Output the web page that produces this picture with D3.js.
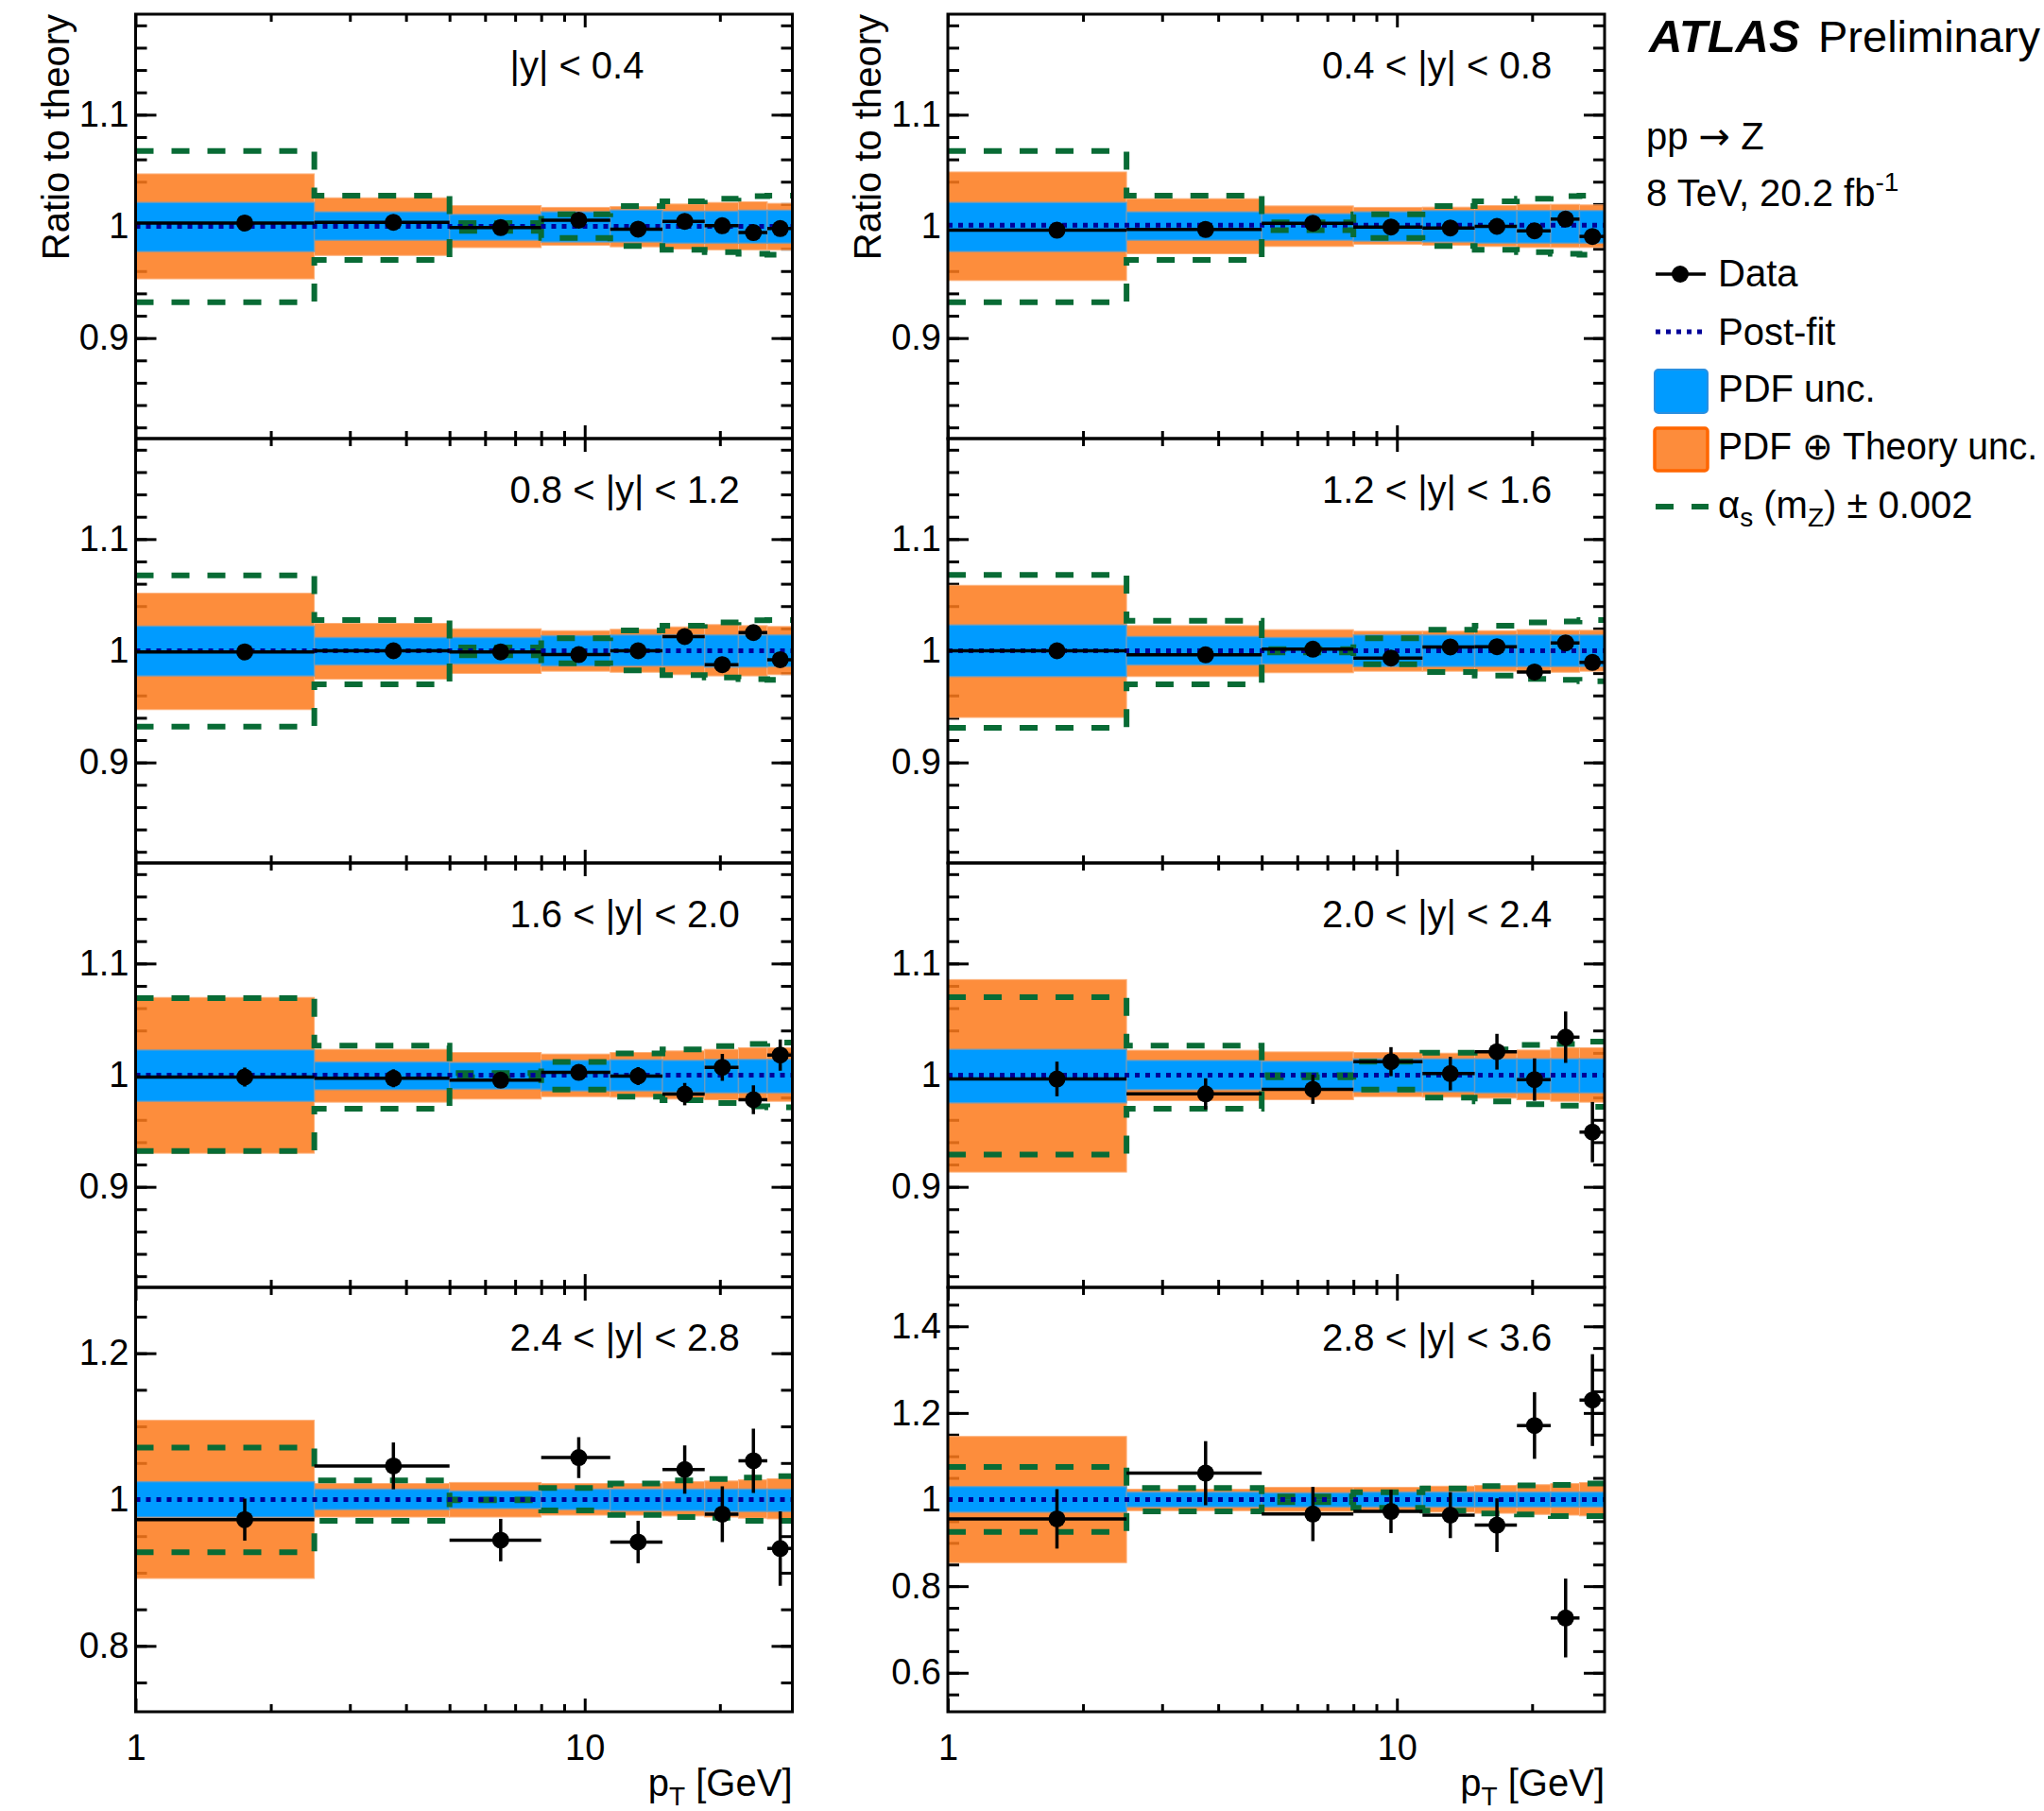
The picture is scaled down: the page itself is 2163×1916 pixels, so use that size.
<!DOCTYPE html>
<html>
<head>
<meta charset="utf-8">
<script src="https://cdn.jsdelivr.net/npm/d3@7"></script>
<style>
  body { margin: 0; background: #fff; }
  text { font-family: "Liberation Sans", Arial, Helvetica, sans-serif; fill: #000; }
</style>
</head>
<body>
<script>
// pT bin edges (GeV), first bin clipped at the axis start
var binEdges = [1, 2.5, 5, 8, 11.4, 14.9, 18.5, 22, 25.5, 29];

var panelLabels = ["|y| < 0.4", "0.4 < |y| < 0.8", "0.8 < |y| < 1.2", "1.2 < |y| < 1.6",
                   "1.6 < |y| < 2.0", "2.0 < |y| < 2.4", "2.4 < |y| < 2.8", "2.8 < |y| < 3.6"];

// y ranges and tick steps of each pad
var yDomains = [[0.81, 1.19], [0.81, 1.19], [0.81, 1.19], [0.81, 1.19],
                [0.81, 1.19], [0.81, 1.19], [0.71, 1.29], [0.51, 1.49]];
var yMajorStep = [0.1, 0.1, 0.1, 0.1, 0.1, 0.1, 0.2, 0.2];
var yMinorStep = [0.02, 0.02, 0.02, 0.02, 0.02, 0.02, 0.05, 0.05];

// data / theory
var dataVal = [
  [1.003, 1.0037, 0.9989, 1.0056, 0.9975, 1.0045, 1.0006, 0.9944, 0.998],
  [0.9966, 0.9972, 1.0028, 0.9994, 0.9986, 1.0, 0.996, 1.0065, 0.991],
  [0.999, 1.0, 0.999, 0.9966, 1.0, 1.0127, 0.9876, 1.0163, 0.992],
  [1.0, 0.9963, 1.0014, 0.9935, 1.0034, 1.0037, 0.981, 1.007, 0.9896],
  [0.9983, 0.9972, 0.9955, 1.0025, 0.9992, 0.983, 1.007, 0.978, 1.018],
  [0.9966, 0.9832, 0.9873, 1.0121, 1.0014, 1.021, 0.996, 1.034, 0.949],
  [0.9726, 1.046, 0.9446, 1.0574, 0.942, 1.041, 0.980, 1.053, 0.933],
  [0.9554, 1.0609, 0.9666, 0.9726, 0.964, 0.9408, 1.171, 0.7265, 1.2297]
];
var dataErr = [
  [0.002, 0.002, 0.002, 0.002, 0.002, 0.003, 0.003, 0.003, 0.004],
  [0.002, 0.002, 0.002, 0.002, 0.002, 0.003, 0.003, 0.003, 0.004],
  [0.002, 0.002, 0.002, 0.002, 0.003, 0.003, 0.003, 0.004, 0.004],
  [0.002, 0.002, 0.002, 0.002, 0.003, 0.003, 0.003, 0.004, 0.004],
  [0.0085, 0.008, 0.005, 0.006, 0.008, 0.010, 0.012, 0.013, 0.014],
  [0.0155, 0.014, 0.013, 0.013, 0.015, 0.016, 0.019, 0.023, 0.027],
  [0.0287, 0.032, 0.029, 0.028, 0.029, 0.033, 0.038, 0.044, 0.051],
  [0.0686, 0.074, 0.0626, 0.05, 0.053, 0.062, 0.077, 0.091, 0.106]
];

// post-fit prediction
var postFit = [
  [1.000, 1.000, 1.000, 1.000, 1.000, 1.000, 1.000, 1.000, 1.000],
  [1.001, 1.001, 1.001, 1.001, 1.001, 1.001, 1.001, 1.001, 1.001],
  [1.000, 1.000, 1.000, 1.000, 1.000, 1.000, 1.000, 1.000, 1.000],
  [1.000, 1.000, 1.000, 1.000, 1.000, 1.000, 1.000, 1.000, 1.000],
  [1.000, 1.000, 1.000, 1.000, 1.000, 1.000, 1.000, 1.000, 1.000],
  [1.000, 1.000, 1.000, 1.000, 1.000, 1.000, 1.000, 1.000, 1.000],
  [1.000, 1.000, 1.000, 1.000, 1.000, 1.000, 1.000, 1.000, 1.000],
  [1.000, 1.000, 1.000, 1.000, 1.000, 1.000, 1.000, 1.000, 1.000]
];

// PDF uncertainty band
var pdfHi = [
  [1.0214, 1.013, 1.0107, 1.013, 1.0146, 1.0135, 1.0135, 1.0144, 1.0144],
  [1.0214, 1.013, 1.0113, 1.013, 1.0141, 1.0141, 1.0141, 1.0141, 1.0141],
  [1.022, 1.0118, 1.0118, 1.0135, 1.0141, 1.0141, 1.0141, 1.0141, 1.0141],
  [1.0231, 1.0127, 1.0118, 1.0141, 1.0141, 1.0141, 1.0141, 1.0141, 1.0141],
  [1.0225, 1.0118, 1.0113, 1.0132, 1.0138, 1.0132, 1.0141, 1.0141, 1.0141],
  [1.0231, 1.0132, 1.0124, 1.0146, 1.0146, 1.0146, 1.0146, 1.0146, 1.0146],
  [1.0244, 1.0142, 1.0117, 1.0142, 1.0142, 1.0142, 1.0142, 1.0142, 1.0142],
  [1.030, 1.0171, 1.0154, 1.0171, 1.0171, 1.0171, 1.0171, 1.0171, 1.0171]
];
var pdfLo = [
  [0.9775, 0.9876, 0.9876, 0.986, 0.986, 0.985, 0.985, 0.985, 0.985],
  [0.9775, 0.9876, 0.9876, 0.9868, 0.986, 0.985, 0.985, 0.985, 0.985],
  [0.9775, 0.9873, 0.9882, 0.9865, 0.9865, 0.9865, 0.9854, 0.9854, 0.9859],
  [0.9769, 0.9873, 0.9882, 0.9859, 0.9859, 0.9859, 0.9859, 0.9859, 0.9859],
  [0.9766, 0.987, 0.9876, 0.9859, 0.9859, 0.9848, 0.9842, 0.9842, 0.9842],
  [0.9752, 0.987, 0.987, 0.9851, 0.9851, 0.9842, 0.9842, 0.9842, 0.9842],
  [0.9761, 0.9863, 0.9878, 0.9863, 0.9848, 0.9848, 0.9837, 0.9837, 0.9837],
  [0.9709, 0.9829, 0.9829, 0.9829, 0.9829, 0.9829, 0.9829, 0.9829, 0.9829]
];

// PDF (+) theory uncertainty band
var totHi = [
  [1.047, 1.0256, 1.0186, 1.017, 1.0177, 1.020, 1.0214, 1.022, 1.0206],
  [1.0487, 1.0248, 1.0183, 1.017, 1.0172, 1.0186, 1.0197, 1.0197, 1.0192],
  [1.0515, 1.0245, 1.0197, 1.018, 1.0192, 1.0214, 1.0234, 1.0225, 1.0217],
  [1.0586, 1.0225, 1.0189, 1.0175, 1.0175, 1.018, 1.0189, 1.0183, 1.0183],
  [1.0696, 1.0231, 1.0203, 1.0189, 1.0203, 1.0217, 1.0231, 1.0245, 1.0245],
  [1.0856, 1.0223, 1.0208, 1.0203, 1.0197, 1.0208, 1.0225, 1.0245, 1.0245],
  [1.1083, 1.0219, 1.0234, 1.0219, 1.0219, 1.0244, 1.0254, 1.0269, 1.0285],
  [1.1457, 1.024, 1.0283, 1.0283, 1.0309, 1.0326, 1.0343, 1.0369, 1.0394]
];
var totLo = [
  [0.953, 0.974, 0.981, 0.983, 0.9817, 0.9797, 0.979, 0.979, 0.979],
  [0.9515, 0.9755, 0.982, 0.984, 0.9831, 0.982, 0.9811, 0.9811, 0.9811],
  [0.9473, 0.9746, 0.9797, 0.9817, 0.9808, 0.9786, 0.9775, 0.9775, 0.9786],
  [0.9403, 0.9769, 0.9803, 0.9817, 0.9817, 0.9817, 0.9808, 0.9808, 0.9817],
  [0.9301, 0.9758, 0.9786, 0.9808, 0.9803, 0.9786, 0.978, 0.9775, 0.9766],
  [0.9132, 0.9772, 0.978, 0.9808, 0.9803, 0.9794, 0.978, 0.9766, 0.9758],
  [0.8922, 0.9761, 0.9761, 0.9787, 0.9787, 0.9776, 0.9761, 0.9746, 0.9736],
  [0.8543, 0.9743, 0.9726, 0.9726, 0.9709, 0.9683, 0.9657, 0.964, 0.9623]
];

// alpha_s(mZ) +- 0.002 variations
var alphaHi = [
  [1.0676, 1.0276, 1.003, 1.0107, 1.0183, 1.0225, 1.0248, 1.027, 1.0276],
  [1.0676, 1.0276, 1.0037, 1.0107, 1.0183, 1.0225, 1.0248, 1.027, 1.0276],
  [1.0676, 1.0276, 1.003, 1.0113, 1.0183, 1.0225, 1.0254, 1.0273, 1.0276],
  [1.068, 1.0268, 1.0014, 1.0113, 1.0189, 1.0225, 1.0254, 1.0262, 1.0276],
  [1.069, 1.0265, 1.002, 1.0118, 1.0195, 1.023, 1.026, 1.028, 1.0293],
  [1.0699, 1.0265, 1.000, 1.012, 1.020, 1.023, 1.027, 1.0279, 1.030],
  [1.071, 1.026, 1.000, 1.0157, 1.022, 1.026, 1.028, 1.030, 1.032],
  [1.0754, 1.0266, 1.007, 1.017, 1.0257, 1.031, 1.0326, 1.034, 1.037]
];
var alphaLo = [
  [0.932, 0.970, 0.996, 0.9896, 0.9825, 0.979, 0.977, 0.9755, 0.9746],
  [0.932, 0.970, 0.9966, 0.9896, 0.9825, 0.979, 0.977, 0.9755, 0.9746],
  [0.932, 0.970, 0.996, 0.9887, 0.9825, 0.9783, 0.976, 0.9746, 0.974],
  [0.931, 0.970, 0.9986, 0.988, 0.981, 0.9777, 0.9749, 0.974, 0.9727],
  [0.932, 0.970, 0.998, 0.987, 0.9808, 0.9775, 0.975, 0.972, 0.9713],
  [0.929, 0.9699, 0.998, 0.987, 0.980, 0.9766, 0.974, 0.9727, 0.9716],
  [0.928, 0.971, 0.999, 0.985, 0.979, 0.976, 0.975, 0.971, 0.971],
  [0.9254, 0.9726, 0.994, 0.981, 0.9743, 0.968, 0.9657, 0.962, 0.962]
];

var xMajor = [1, 10];
var xMinor = [2, 3, 4, 5, 6, 7, 8, 9, 20];

// colours
var cOrange = "#fd7a1c", cBlue = "#009bff", cGreen = "#086b35", cNavy = "#000099";

// layout
var colX = [143.5, 1003], rowY = [15, 464, 913, 1362];
var W = 695, H = 449;

var svg = d3.select("body").append("svg")
    .attr("width", 2163)
    .attr("height", 1916)
    .style("background", "#fff");

function stepTicks(dom, step) {
  var a = Math.ceil(dom[0] / step - 1e-9), b = Math.floor(dom[1] / step + 1e-9);
  return d3.range(a, b + 1).map(function(k) { return +(k * step).toFixed(3); });
}
function fmt(d) { return String(+d.toFixed(2)); }

function styleAxis(sel, width) {
  sel.select(".domain").remove();
  sel.selectAll(".tick line").attr("stroke", "#000").attr("stroke-width", width);
  sel.selectAll(".tick text").attr("font-size", 38).attr("fill", "#000")
     .style("font-family", "'Liberation Sans', Arial, Helvetica, sans-serif");
}

var bins = d3.range(9).map(function(i) { return {i: i, lo: binEdges[i], hi: binEdges[i + 1]}; });

//******************************************************************************
//****************************** Pads ******************************************
d3.range(8).forEach(function(p) {
  var col = p % 2, row = Math.floor(p / 2);
  var bottomRow = row === 3;

  var x = d3.scaleLog().domain([1, 29]).range([0, W]);
  var y = d3.scaleLinear().domain(yDomains[p]).range([H, 0]);

  var g = svg.append("g").attr("transform", "translate(" + colX[col] + "," + rowY[row] + ")");

  var major = stepTicks(yDomains[p], yMajorStep[p]);
  var minor = stepTicks(yDomains[p], yMinorStep[p]);

  // ticks (under the bands, as in the original)
  g.append("g").call(d3.axisLeft(y).tickValues(minor).tickSize(-12).tickFormat(""))
    .call(styleAxis, 3);
  g.append("g").call(d3.axisLeft(y).tickValues(major).tickSize(-22).tickPadding(7).tickFormat(fmt))
    .call(styleAxis, 3);
  g.append("g").attr("transform", "translate(" + W + ",0)")
    .call(d3.axisRight(y).tickValues(minor).tickSize(-12).tickFormat("")).call(styleAxis, 3);
  g.append("g").attr("transform", "translate(" + W + ",0)")
    .call(d3.axisRight(y).tickValues(major).tickSize(-22).tickFormat("")).call(styleAxis, 3);

  g.append("g").attr("transform", "translate(0," + H + ")")
    .call(d3.axisBottom(x).tickValues(xMinor).tickSize(-8).tickFormat("")).call(styleAxis, 3);
  g.append("g").attr("transform", "translate(0," + H + ")")
    .call(d3.axisBottom(x).tickValues(xMajor).tickSize(-14).tickPadding(24)
      .tickFormat(function(d) { return bottomRow ? String(d) : ""; }))
    .call(styleAxis, 3);
  g.append("g").call(d3.axisTop(x).tickValues(xMinor).tickSize(-8).tickFormat("")).call(styleAxis, 3);
  g.append("g").call(d3.axisTop(x).tickValues(xMajor).tickSize(-14).tickFormat("")).call(styleAxis, 3);

  // clip
  svg.append("clipPath").attr("id", "clip" + p)
    .append("rect").attr("width", W).attr("height", H);
  var plot = g.append("g").attr("clip-path", "url(#clip" + p + ")");

  // PDF (+) theory band
  plot.selectAll("rect.tot").data(bins).enter().append("rect")
    .attr("class", "tot")
    .attr("x", function(d) { return x(d.lo); })
    .attr("width", function(d) { return x(d.hi) - x(d.lo); })
    .attr("y", function(d) { return y(totHi[p][d.i]); })
    .attr("height", function(d) { return y(totLo[p][d.i]) - y(totHi[p][d.i]); })
    .attr("fill", cOrange).attr("fill-opacity", 0.86)
    .attr("stroke", "#fdb07a").attr("stroke-width", 1);

  // PDF band
  plot.selectAll("rect.pdf").data(bins).enter().append("rect")
    .attr("class", "pdf")
    .attr("x", function(d) { return x(d.lo); })
    .attr("width", function(d) { return x(d.hi) - x(d.lo); })
    .attr("y", function(d) { return y(pdfHi[p][d.i]); })
    .attr("height", function(d) { return y(pdfLo[p][d.i]) - y(pdfHi[p][d.i]); })
    .attr("fill", cBlue)
    .attr("stroke", "#6f9cbd").attr("stroke-width", 1.5).attr("stroke-opacity", 0.8);

  // alpha_s variations, drawn as step lines
  var step = d3.line().x(function(d) { return x(d[0]); }).y(function(d) { return y(d[1]); });
  [alphaHi, alphaLo].forEach(function(arr) {
    var pts = [];
    bins.forEach(function(b) { pts.push([b.lo, arr[p][b.i]], [b.hi, arr[p][b.i]]); });
    plot.append("path").attr("d", step(pts))
      .attr("fill", "none").attr("stroke", cGreen)
      .attr("stroke-width", 6).attr("stroke-dasharray", "19,19");
  });

  // post-fit
  var pf = [];
  bins.forEach(function(b) { pf.push([b.lo, postFit[p][b.i]], [b.hi, postFit[p][b.i]]); });
  plot.append("path").attr("d", step(pf))
    .attr("fill", "none").attr("stroke", cNavy)
    .attr("stroke-width", 5).attr("stroke-dasharray", "5,6");

  // data
  var pts = plot.selectAll("g.pt").data(bins).enter().append("g").attr("class", "pt");
  pts.append("line")
    .attr("x1", function(d) { return x(d.lo); })
    .attr("x2", function(d) { return x(d.hi); })
    .attr("y1", function(d) { return y(dataVal[p][d.i]); })
    .attr("y2", function(d) { return y(dataVal[p][d.i]); })
    .attr("stroke", "#000").attr("stroke-width", 3.5);
  pts.append("line")
    .attr("x1", function(d) { return x((d.lo + d.hi) / 2); })
    .attr("x2", function(d) { return x((d.lo + d.hi) / 2); })
    .attr("y1", function(d) { return y(dataVal[p][d.i] - dataErr[p][d.i]); })
    .attr("y2", function(d) { return y(dataVal[p][d.i] + dataErr[p][d.i]); })
    .attr("stroke", "#000").attr("stroke-width", 3.5);
  pts.append("circle")
    .attr("cx", function(d) { return x((d.lo + d.hi) / 2); })
    .attr("cy", function(d) { return y(dataVal[p][d.i]); })
    .attr("r", 9).attr("fill", "#000");

  // frame
  g.append("rect").attr("width", W).attr("height", H)
    .attr("fill", "none").attr("stroke", "#000").attr("stroke-width", 3);

  // rapidity label
  g.append("text").attr("x", 396).attr("y", bottomRow ? 67 : 68)
    .attr("font-size", 40).text(panelLabels[p]);

  if (row === 0) {
    g.append("text")
      .attr("transform", "translate(-71,0) rotate(-90)")
      .attr("text-anchor", "end").attr("font-size", 40)
      .text("Ratio to theory");
  }
  if (bottomRow) {
    var t = g.append("text").attr("x", W).attr("y", H + 89)
      .attr("text-anchor", "end").attr("font-size", 40);
    t.append("tspan").text("p");
    t.append("tspan").attr("font-size", 28).attr("dy", 10).text("T");
    t.append("tspan").attr("dy", -10).text(" [GeV]");
  }
});

//******************************************************************************
//****************************** Legend ****************************************
var leg = svg.append("g");
leg.append("text").attr("x", 1745).attr("y", 55).attr("font-size", 49)
  .attr("font-weight", "bold").attr("font-style", "italic").text("ATLAS");
leg.append("text").attr("x", 1924).attr("y", 55).attr("font-size", 47).text("Preliminary");

var proc = leg.append("text").attr("x", 1742).attr("y", 158).attr("font-size", 40);
proc.append("tspan").text("pp ");
proc.append("tspan").style("font-family", "'DejaVu Sans', sans-serif").text("\u2192");
proc.append("tspan").text(" Z");
var lumi = leg.append("text").attr("x", 1742).attr("y", 218).attr("font-size", 40);
lumi.append("tspan").text("8 TeV, 20.2 fb");
lumi.append("tspan").attr("font-size", 28).attr("dy", -16).text("-1");

var tx = 1818;
// Data
leg.append("line").attr("x1", 1752).attr("x2", 1805).attr("y1", 290).attr("y2", 290)
  .attr("stroke", "#000").attr("stroke-width", 3.5);
leg.append("circle").attr("cx", 1778).attr("cy", 290).attr("r", 9).attr("fill", "#000");
leg.append("text").attr("x", tx).attr("y", 303).attr("font-size", 40).text("Data");
// Post-fit
leg.append("line").attr("x1", 1752).attr("x2", 1805).attr("y1", 351).attr("y2", 351)
  .attr("stroke", cNavy).attr("stroke-width", 5).attr("stroke-dasharray", "5,6");
leg.append("text").attr("x", tx).attr("y", 365).attr("font-size", 40).text("Post-fit");
// PDF unc.
leg.append("rect").attr("x", 1751).attr("y", 391).attr("width", 56).attr("height", 46).attr("rx", 4)
  .attr("fill", cBlue).attr("stroke", "#2a8fe0").attr("stroke-width", 2);
leg.append("text").attr("x", tx).attr("y", 425).attr("font-size", 40).text("PDF unc.");
// PDF + theory
leg.append("rect").attr("x", 1751).attr("y", 453).attr("width", 56).attr("height", 45).attr("rx", 3)
  .attr("fill", "#fd8c3b").attr("stroke", "#ff6600").attr("stroke-width", 3.5);
leg.append("text").attr("x", tx).attr("y", 486).attr("font-size", 40)
  .attr("textLength", 338).attr("lengthAdjust", "spacingAndGlyphs")
  .text("PDF \u2295 Theory unc.");
// alpha_s
leg.append("line").attr("x1", 1752).attr("x2", 1808).attr("y1", 536).attr("y2", 536)
  .attr("stroke", cGreen).attr("stroke-width", 6).attr("stroke-dasharray", "19,19");
var as = leg.append("text").attr("x", tx).attr("y", 548).attr("font-size", 40);
as.append("tspan").text("\u03b1");
as.append("tspan").attr("font-size", 28).attr("dy", 9).text("s");
as.append("tspan").attr("dy", -9).text(" (m");
as.append("tspan").attr("font-size", 28).attr("dy", 9).text("Z");
as.append("tspan").attr("dy", -9).text(") \u00b1 0.002");
</script>
</body>
</html>
